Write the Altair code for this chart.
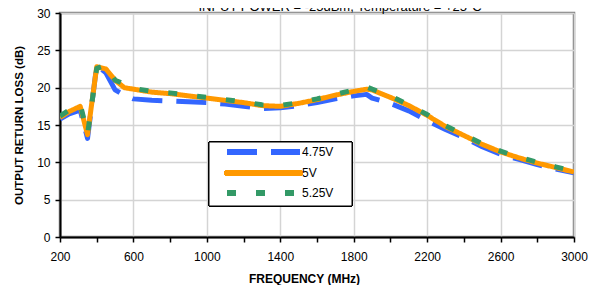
import altair as alt
import pandas as pd

freq = [200, 250, 310, 350, 400, 450, 500, 550, 600, 700, 800, 900, 1000, 1100, 1200, 1300,
        1400, 1500, 1600, 1700, 1800, 1870, 1900, 2000, 2100, 2200, 2300, 2400, 2500, 2600,
        2700, 2800, 2900, 3000]
v475 = [15.8, 16.5, 17.0, 13.2, 23.0, 22.0, 19.7, 19.0, 18.5, 18.3, 18.2, 18.1, 18.0, 17.8, 17.5, 17.2,
        17.3, 17.6, 18.0, 18.5, 18.9, 19.1, 18.6, 17.9, 16.9, 15.6, 14.4, 13.3, 12.1, 11.1,
        10.4, 9.7, 9.1, 8.6]
v500 = [16.0, 16.8, 17.5, 13.7, 22.8, 22.5, 21.0, 20.0, 19.8, 19.4, 19.2, 18.9, 18.6, 18.3, 18.0, 17.6,
        17.5, 17.9, 18.4, 19.0, 19.5, 19.8, 19.7, 18.7, 17.6, 16.3, 14.8, 13.6, 12.4, 11.4,
        10.6, 9.9, 9.3, 8.7]
v525 = [16.2, 17.0, 17.8, 13.8, 22.6, 23.0, 21.0, 20.5, 19.9, 19.5, 19.3, 19.0, 18.7, 18.4, 18.1, 17.7,
        17.6, 18.0, 18.5, 19.1, 19.7, 20.1, 19.8, 18.9, 17.7, 16.4, 14.9, 13.7, 12.5, 11.5,
        10.7, 10.0, 9.4, 8.8]

labels = ["4.75V", "5V", "5.25V"]
fields = ["s475", "s500", "s525"]
colors = ["#3366FF", "#FF9900", "#339966"]
dashes = [[30, 14], [1, 0], [9, 20]]
widths = [5, 5, 5]
title_text = "INPUT POWER = -25dBm, Temperature = +25\u00b0C"

df = pd.DataFrame({"freq": freq, "s475": v475, "s500": v500, "s525": v525})

FONT = "Liberation Sans"
W, H = 514, 224

x_enc = alt.X("freq:Q", scale=alt.Scale(domain=[200, 3000], nice=False),
              axis=alt.Axis(values=list(range(200, 3001, 200)),
                            labelExpr="datum.value % 400 == 200 ? datum.label : ''",
                            title="FREQUENCY (MHz)", titleFontWeight="bold", titleFontSize=12,
                            titleX=244, titlePadding=11,
                            labelFontSize=12, labelPadding=9, labelColor="#000000",
                            labelFlush=False, labelOverlap=False, format="d",
                            grid=True,
                            gridOpacity={"condition": {"test": "datum.value % 400 == 200", "value": 1}, "value": 0},
                            gridColor="#D4D4D4", gridWidth=1.5,
                            domainColor="#000000", domainWidth=2,
                            tickColor="#000000", tickWidth=1.5, tickSize=5))


def y_enc(field):
    return alt.Y(f"{field}:Q", scale=alt.Scale(domain=[0, 30], nice=False),
                 axis=alt.Axis(values=list(range(0, 31, 5)), title="OUTPUT RETURN LOSS (dB)",
                               titleFontWeight="bold", titleFontSize=11.5, titlePadding=12,
                               labelFontSize=12, labelPadding=5, labelColor="#000000",
                               grid=True, gridColor="#D4D4D4", gridWidth=1.5,
                               domainColor="#000000", domainWidth=2,
                               tickColor="#000000", tickWidth=1.5, tickSize=5))


layers = []
for fld, col, dsh, w in zip(fields, colors, dashes, widths):
    layers.append(alt.Chart(df).mark_line(color=col, strokeWidth=w, strokeDash=dsh,
                                          strokeCap="butt", strokeJoin="round", clip=True)
                  .encode(x=x_enc, y=y_enc(fld)))

# title (cut at the top, as in the reference)
layers.append(alt.Chart(pd.DataFrame({"t": [title_text]})).mark_text(
    align="center", baseline="alphabetic", font=FONT, fontSize=13, color="#000000").encode(
    x=alt.value(280), y=alt.value(-2), text="t:N"))

# legend box
leg_box = alt.Chart(df).mark_rect(fill="white", stroke="black", strokeWidth=1).encode(
    x=alt.value(149), x2=alt.value(292), y=alt.value(129), y2=alt.value(193))
layers.append(leg_box)
ys = [139, 160, 180]
for lab, col, dsh, w, yy in zip(labels, colors, dashes, widths, ys):
    layers.append(alt.Chart(df).mark_rule(color=col, strokeWidth=w, strokeDash=dsh,
                                          strokeCap="round" if lab == "5V" else "butt").encode(
        x=alt.value(167), x2=alt.value(240), y=alt.value(yy)))
    layers.append(alt.Chart(pd.DataFrame({"t": [lab]})).mark_text(
        align="left", baseline="middle", font=FONT, fontSize=12, color="#000000").encode(
        x=alt.value(242), y=alt.value(yy), text="t:N"))

chart = alt.layer(*layers).properties(
    width=W, height=H,
    autosize=alt.AutoSizeParams(type="none"),
    padding={"left": 52, "top": 5, "right": 16, "bottom": 48},
).configure(font=FONT).configure_view(stroke="#808080", strokeWidth=2.5).configure_axis(
    labelFont=FONT, titleFont=FONT)

chart.save("out.html", embed_options={"renderer": "svg", "actions": False})
